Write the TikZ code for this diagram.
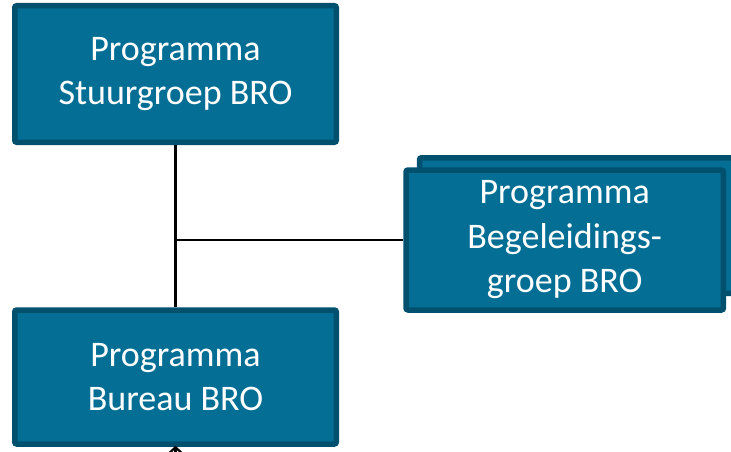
\documentclass[tikz,border=0pt]{standalone}
\usepackage{fontspec}
\setmainfont{Carlito}
\usetikzlibrary{arrows.meta}
\definecolor{boxfill}{RGB}{4,110,148}
\definecolor{boxline}{RGB}{0,80,110}
\tikzset{
  orgbox/.style={draw=boxline, fill=boxfill, line width=5.5pt, rounded corners=2pt,
    text=white, align=center, inner sep=0pt,
    font=\fontsize{36}{44.5}\selectfont},
  link/.style={draw=black, line width=2.2pt}
}
\begin{document}
\begin{tikzpicture}[x=1pt,y=1pt]
\useasboundingbox (0,0) rectangle (731,451);
\clip (0,0) rectangle (731,451);
\node[orgbox, minimum width=321.5pt, minimum height=136.5pt] (top) at (175.5,377) {Programma\\Stuurgroep BRO};
\node[orgbox, minimum width=321.5pt, minimum height=134pt] (bureau) at (175.5,74) {Programma\\Bureau BRO};
\node[orgbox, minimum width=317pt, minimum height=135.5pt] (back) at (578,225.5) {};
\node[orgbox, minimum width=317.3pt, minimum height=140pt] (begel) at (564.7,211) {Programma\\Begeleidings-\\groep BRO};
\coordinate (ext) at (175.5,-40);
\draw[link] (top.south) -- (bureau.north);
\draw[link] (top.south |- begel.west) -- (begel.west);
\draw[link, -{Straight Barb[length=7pt,width=15pt]}] (ext) -- ([yshift=1pt]bureau.south);
\end{tikzpicture}
\end{document}
